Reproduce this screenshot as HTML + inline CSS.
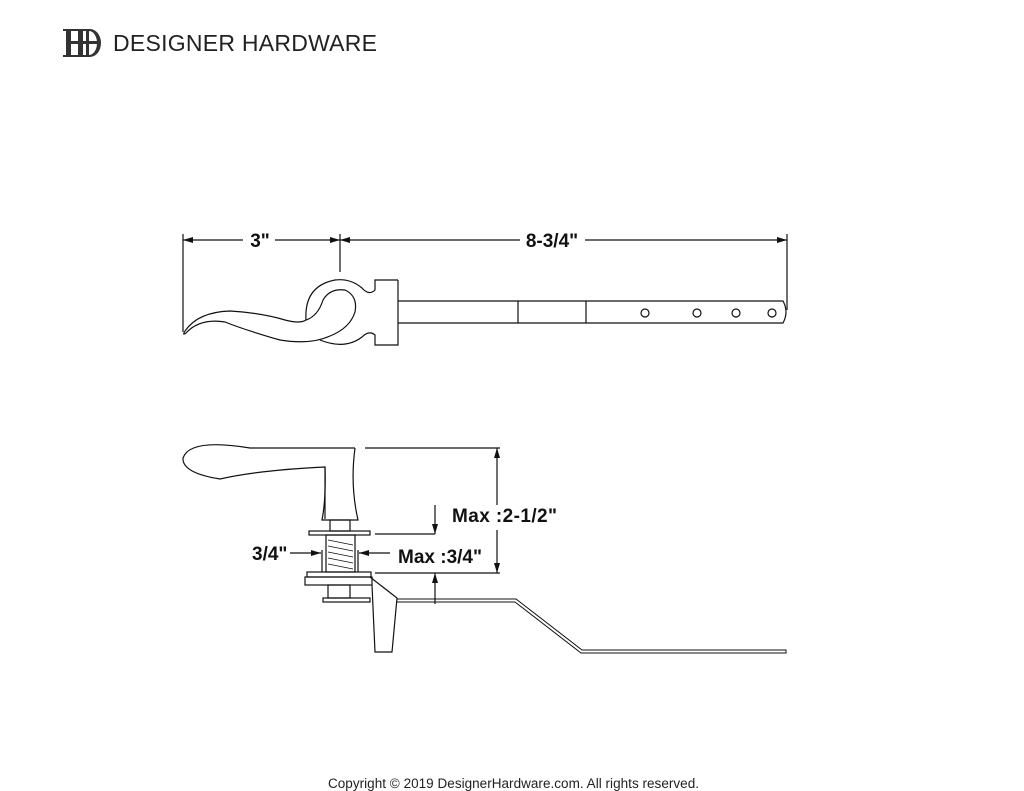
<!DOCTYPE html>
<html><head><meta charset="utf-8"><style>
html,body{margin:0;padding:0;background:#fff;}
svg{display:block;}
text{font-family:"Liberation Sans",sans-serif;}
</style></head><body>
<svg width="1024" height="791" viewBox="0 0 1024 791" xmlns="http://www.w3.org/2000/svg">
<defs>
<marker id="ar" viewBox="0 0 10 6" refX="10" refY="3" markerWidth="10" markerHeight="6" orient="auto-start-reverse" markerUnits="userSpaceOnUse"><path d="M0,0 L10,3 L0,6 z" fill="#111"/></marker>
</defs>
<g fill="#333">
<rect x="66" y="29" width="5" height="28"/><rect x="78" y="29" width="5" height="28"/>
<rect x="63" y="29" width="23" height="2"/><rect x="63" y="55" width="23" height="2"/>
<rect x="66" y="41" width="32" height="3"/>
<path d="M84,29 h6 a11,14 0 0 1 0,28 h-6 v-2 h2 v-24 h-2z M89,31 v24 a8,12 0 0 0 0,-24z" fill-rule="evenodd"/>
</g>
<text x="113" y="51" font-size="23" fill="#222" textLength="264">DESIGNER HARDWARE</text>

<g stroke="#111" stroke-width="1.2" fill="none">
<line x1="183" y1="234" x2="183" y2="332"/>
<line x1="340" y1="234" x2="340" y2="272"/>
<line x1="787" y1="234" x2="787" y2="310"/>
<line x1="183" y1="240" x2="243" y2="240" marker-start="url(#ar)"/>
<line x1="275" y1="240" x2="340" y2="240" marker-end="url(#ar)"/>
<line x1="340" y1="240" x2="520" y2="240" marker-start="url(#ar)"/>
<line x1="585" y1="240" x2="787" y2="240" marker-end="url(#ar)"/>
<path d="M398,301 H783 Q789,312 783,323 H398"/>
<line x1="518" y1="301" x2="518" y2="323"/>
<line x1="586" y1="301" x2="586" y2="323"/>
<circle cx="645" cy="313" r="4"/><circle cx="697" cy="313" r="4"/><circle cx="736" cy="313" r="4"/><circle cx="772" cy="313" r="4"/>
<path d="M398,280 H375 V290 Q369,296 362,288 Q350,278 335,280 Q304,286 306,320"/>
<path d="M398,280 V345 H375 V335 Q369,330 362,337 Q345,350 320,340"/>
<path d="M185,331 Q198,312 230,311 Q262,313 285,320 Q300,324 306,320 Q318,316 323,300 Q330,288 345,290 Q358,296 355,312 Q350,328 330,336 Q310,345 280,340 Q245,330 225,322 Q200,318 186,333 Q182,336 185,331"/>
<path d="M355,448 H250 Q190,438 183,458 Q182,473 220,479 Q260,470 325,467 V519"/>
<path d="M355,448 Q350,485 358,520 H322 Q326,500 325,467"/>
<line x1="365" y1="448" x2="500" y2="448"/>
<rect x="330" y="520" width="20" height="11"/>
<rect x="309" y="531" width="61" height="4"/>
<rect x="326" y="535" width="29" height="37"/>
<path d="M322,550 V572 M358,550 V572"/>
<path d="M328,540 L353,545 M328,546 L353,551 M328,552 L353,557 M328,558 L353,563 M328,564 L353,569" stroke-width="0.8"/>
<rect x="307" y="572" width="64" height="5"/>
<rect x="305" y="577" width="67" height="8"/>
<rect x="328" y="585" width="22" height="13"/>
<rect x="323" y="598" width="47" height="4"/>
<path d="M372,585 L375,652 H392 L397,598 L370,577"/>
<path d="M397,599 H516 L582,650 H786 V653 H581 L515,602 H397" stroke-width="1"/>
<line x1="375" y1="534" x2="435" y2="534"/>
<line x1="375" y1="573" x2="500" y2="573"/>
<line x1="497" y1="448" x2="497" y2="505" marker-start="url(#ar)"/>
<line x1="497" y1="530" x2="497" y2="573" marker-end="url(#ar)"/>
<line x1="435" y1="505" x2="435" y2="534" marker-end="url(#ar)"/>
<line x1="435" y1="604" x2="435" y2="573" marker-end="url(#ar)"/>
<line x1="290" y1="553" x2="321" y2="553" marker-end="url(#ar)"/>
<line x1="390" y1="553" x2="359" y2="553" marker-end="url(#ar)"/>
</g>
<g font-weight="bold" font-size="19" fill="#111">
<text x="260" y="247" text-anchor="middle">3"</text>
<text x="552" y="247" text-anchor="middle">8-3/4"</text>
<text x="452" y="522" textLength="105">Max :2-1/2"</text>
<text x="252" y="560">3/4"</text>
<text x="398" y="563">Max :3/4"</text>
</g>
<text x="328" y="788" font-size="13.5" fill="#222" textLength="371">Copyright © 2019 DesignerHardware.com. All rights reserved.</text>
</svg>
</body></html>
